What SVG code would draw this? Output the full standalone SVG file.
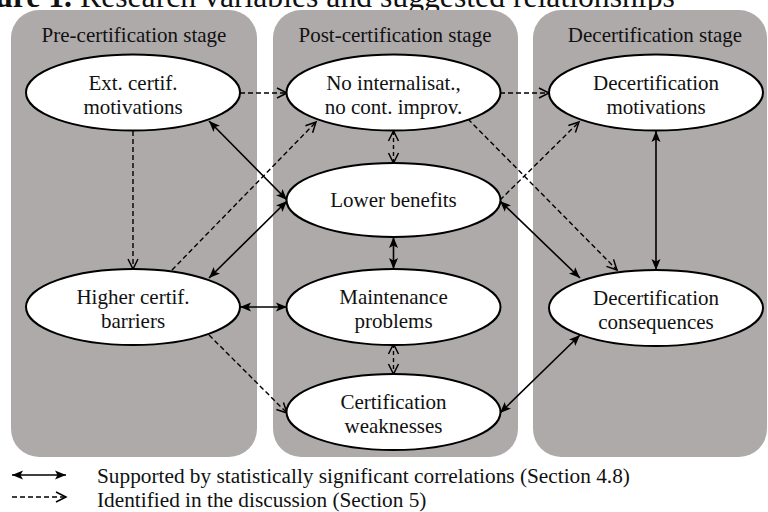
<svg xmlns="http://www.w3.org/2000/svg" width="768" height="512" viewBox="0 0 768 512" font-family="Liberation Serif, Times New Roman, serif">
<style>
.panel{fill:#aeaaaa;stroke:none}
.node ellipse{fill:#ffffff;stroke:#000;stroke-width:2}
.lbl{font-size:21px;fill:#111;text-anchor:middle}
.hdr{font-size:21px;fill:#111;text-anchor:middle}
.leg{font-size:21.3px;fill:#111}
.solid{stroke:#000;stroke-width:1.6;fill:none;marker-start:url(#fh);marker-end:url(#fh)}
.dash{stroke:#000;stroke-width:1.4;fill:none;stroke-dasharray:5 3;marker-end:url(#oh)}
.dash2{stroke:#000;stroke-width:1.4;fill:none;stroke-dasharray:4 3;marker-start:url(#oh);marker-end:url(#oh)}
</style>
<defs>
<marker id="fh" markerUnits="userSpaceOnUse" markerWidth="12" markerHeight="10" refX="11" refY="4.5" orient="auto-start-reverse" overflow="visible">
<path d="M0,0 L11,4.5 L0,9 L2.5,4.5 z" fill="#000" stroke="none"/>
</marker>
<marker id="oh" markerUnits="userSpaceOnUse" markerWidth="12" markerHeight="12" refX="10" refY="5" orient="auto-start-reverse" overflow="visible">
<path d="M0,0 L10,5 L0,10" fill="none" stroke="#000" stroke-width="1.5" stroke-dasharray="none"/>
</marker>
</defs>
<rect width="768" height="512" fill="#ffffff"/>
<text x="72" y="7" font-size="31.7" font-weight="bold" text-anchor="end" fill="#111">Figure 1.</text>
<text x="80" y="7" font-size="31.7" fill="#111">Research variables and suggested relationships</text>
<g id="panels">
<rect class="panel" x="11" y="10" width="246" height="447" rx="28"/>
<rect class="panel" x="273" y="10" width="245" height="447" rx="28"/>
<rect class="panel" x="533" y="10" width="234" height="447" rx="28"/>
<text class="hdr" x="134" y="42">Pre-certification stage</text>
<text class="hdr" x="395" y="42">Post-certification stage</text>
<text class="hdr" x="655" y="42">Decertification stage</text>
</g>
<g id="connectors">
<line class="dash" x1="240" y1="93" x2="287" y2="93"/>
<line class="dash" x1="133" y1="131" x2="133" y2="269"/>
<line class="solid" x1="209" y1="121" x2="287" y2="200"/>
<line class="dash" x1="172" y1="270" x2="316" y2="122"/>
<line class="solid" x1="209" y1="278" x2="287" y2="201"/>
<line class="solid" x1="240" y1="307" x2="287" y2="307"/>
<line class="dash" x1="209" y1="335" x2="287" y2="413"/>
<line class="dash2" x1="393.5" y1="131" x2="393.5" y2="163"/>
<line class="solid" x1="393.5" y1="237" x2="393.5" y2="269"/>
<line class="dash2" x1="393.5" y1="344" x2="393.5" y2="374"/>
<line class="dash" x1="500" y1="93" x2="549" y2="93"/>
<line class="dash" x1="500" y1="200" x2="579" y2="122"/>
<line class="dash" x1="468" y1="119" x2="617" y2="270"/>
<line class="solid" x1="500" y1="201" x2="580" y2="278"/>
<line class="solid" x1="656" y1="131" x2="656" y2="270"/>
<line class="solid" x1="500" y1="413" x2="580" y2="335"/>
</g>
<g id="ext" class="node"><ellipse cx="133" cy="92.5" rx="107" ry="38"/><text class="lbl" x="133" y="89.5">Ext. certif.</text><text class="lbl" x="133" y="113.5">motivations</text></g>
<g id="noint" class="node"><ellipse cx="393.5" cy="92.5" rx="107" ry="38"/><text class="lbl" x="393.5" y="89.5">No internalisat.,</text><text class="lbl" x="393.5" y="113.5">no cont. improv.</text></g>
<g id="decmot" class="node"><ellipse cx="656" cy="92.5" rx="107" ry="38"/><text class="lbl" x="656" y="89.5">Decertification</text><text class="lbl" x="656" y="113.5">motivations</text></g>
<g id="lower" class="node"><ellipse cx="393.5" cy="200" rx="107" ry="37"/><text class="lbl" x="393.5" y="207">Lower benefits</text></g>
<g id="higher" class="node"><ellipse cx="133" cy="307" rx="107" ry="38"/><text class="lbl" x="133" y="304">Higher certif.</text><text class="lbl" x="133" y="328">barriers</text></g>
<g id="maint" class="node"><ellipse cx="393.5" cy="307" rx="107" ry="38"/><text class="lbl" x="393.5" y="304">Maintenance</text><text class="lbl" x="393.5" y="328">problems</text></g>
<g id="deccons" class="node"><ellipse cx="656" cy="308" rx="107" ry="38"/><text class="lbl" x="656" y="305">Decertification</text><text class="lbl" x="656" y="329">consequences</text></g>
<g id="certw" class="node"><ellipse cx="393.5" cy="412" rx="107" ry="38"/><text class="lbl" x="393.5" y="409">Certification</text><text class="lbl" x="393.5" y="433">weaknesses</text></g>
<g id="legend">
<line class="solid" x1="12" y1="475" x2="66" y2="475"/>
<text class="leg" x="97" y="483">Supported by statistically significant correlations (Section 4.8)</text>
<line class="dash" x1="12" y1="497" x2="66" y2="497"/>
<text class="leg" x="97" y="507">Identified in the discussion (Section 5)</text>
</g>
</svg>
